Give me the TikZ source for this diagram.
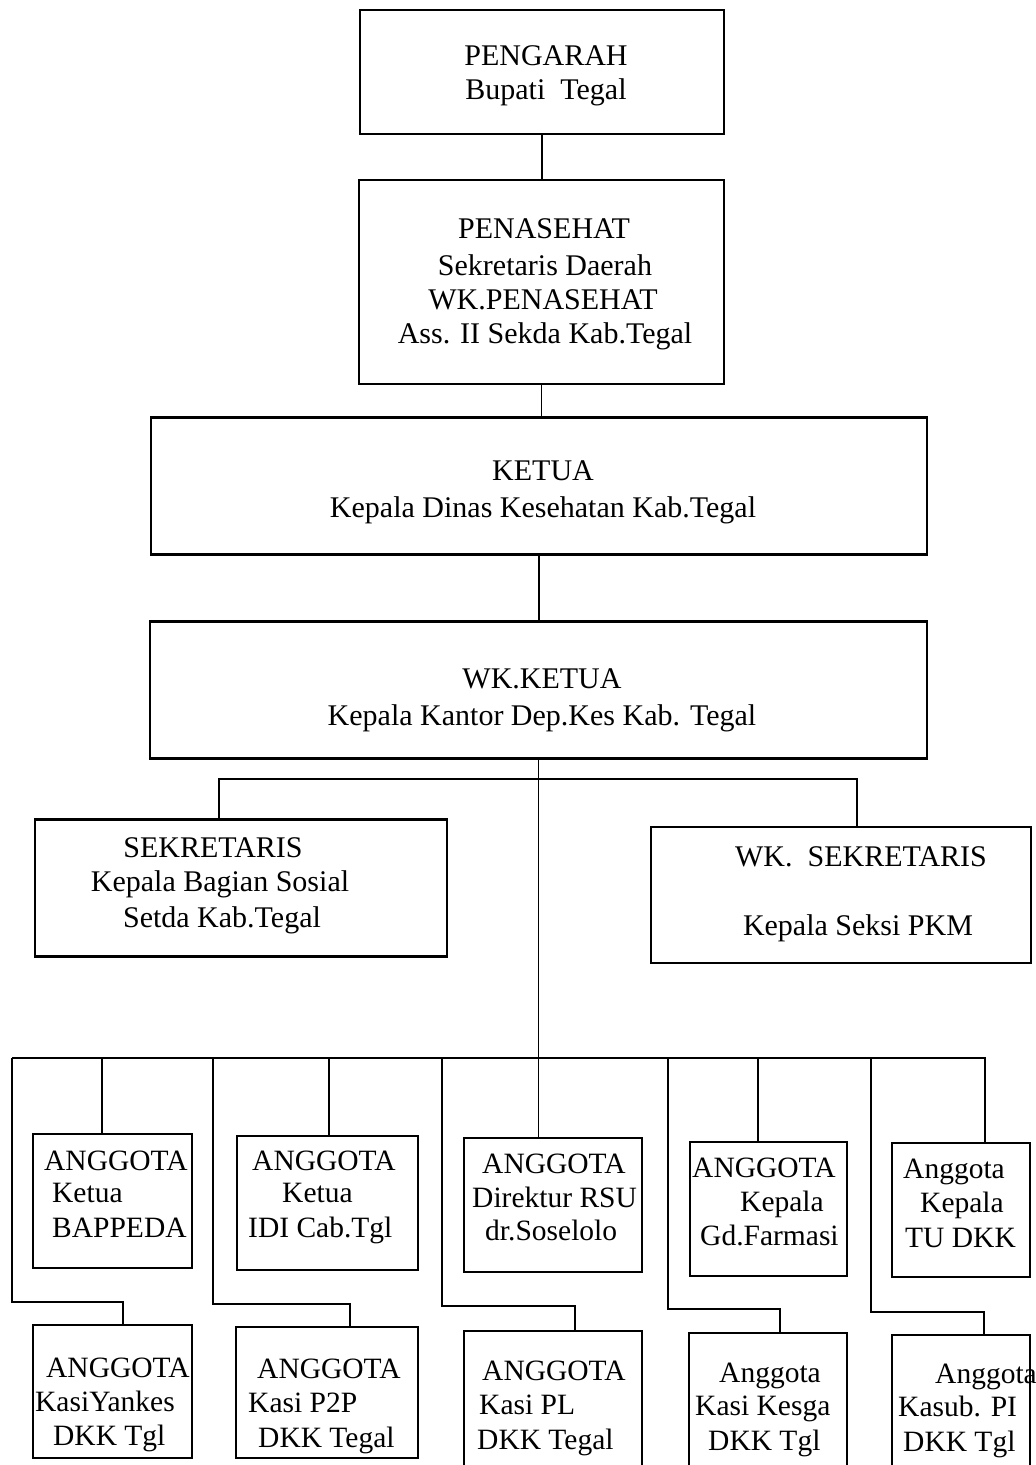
\documentclass[tikz,border=0pt]{standalone}
\usepackage{fontspec}
\setmainfont{Liberation Serif}
\begin{document}
\begin{tikzpicture}[x=1pt,y=-1pt,
  box/.style={draw, line width=2.2pt, rectangle, inner sep=0pt, outer sep=0pt},
  conn/.style={line width=1.8pt},
  lbl/.style={inner sep=0pt, font=\fontsize{30}{36}\selectfont},
  lbls/.style={inner sep=0pt, anchor=base west, font=\fontsize{29.5}{35}\selectfont}]
\useasboundingbox (0,0) rectangle (1036,1465);
% top boxes
\node[box, minimum width=364pt, minimum height=124pt] (pengarah) at (542,72) {};
\node[box, minimum width=365pt, minimum height=204pt] (penasehat) at (541.5,282) {};
\node[box, minimum width=776pt, minimum height=137pt] (ketua) at (539,486) {};
\node[box, minimum width=777pt, minimum height=137pt] (wkketua) at (538.5,690) {};
\node[box, minimum width=412pt, minimum height=137pt] (sekretaris) at (241,888) {};
\node[box, minimum width=380pt, minimum height=136pt] (wksekretaris) at (841,895) {};
% member boxes row 1
\node[box, minimum width=159pt, minimum height=134pt] (b1) at (112.5,1201) {};
\node[box, minimum width=181pt, minimum height=134pt] (b2) at (327.5,1203) {};
\node[box, minimum width=178pt, minimum height=134pt] (b3) at (553,1205) {};
\node[box, minimum width=157pt, minimum height=134pt] (b4) at (768.5,1209) {};
\node[box, minimum width=138pt, minimum height=134pt] (b5) at (961,1210) {};
% member boxes row 2
\node[box, minimum width=159pt, minimum height=133pt] (c1) at (112.5,1391.5) {};
\node[box, minimum width=182pt, minimum height=131pt] (c2) at (327,1392.5) {};
\node[box, minimum width=178pt, minimum height=149pt] (c3) at (553,1405.5) {};
\node[box, minimum width=158pt, minimum height=147pt] (c4) at (768,1406.5) {};
\node[box, minimum width=138pt, minimum height=145pt] (c5) at (961,1407.5) {};
% texts top
\node[lbl, anchor=base] (tp1) at (546,65) {PENGARAH};
\node[lbl, anchor=base] (tp2) at (546,99) {Bupati~ Tegal};
\node[lbl, anchor=base] (ts1) at (544,238) {PENASEHAT};
\node[lbl, anchor=base] (ts2) at (545,275) {Sekretaris Daerah};
\node[lbl, anchor=base] (ts3) at (543,309) {WK.PENASEHAT};
\node[lbl, anchor=base] (ts4) at (545,343) {Ass. II Sekda Kab.Tegal};
\node[lbl, anchor=base] (tk1) at (543,480) {KETUA};
\node[lbl, anchor=base] (tk2) at (543,517) {Kepala Dinas Kesehatan Kab.Tegal};
\node[lbl, anchor=base] (tw1) at (542,688) {WK.KETUA};
\node[lbl, anchor=base] (tw2) at (542,725) {Kepala Kantor Dep.Kes Kab. Tegal};
\node[lbl, anchor=base] (tse1) at (213,857) {SEKRETARIS};
\node[lbl, anchor=base] (tse2) at (220,891) {Kepala Bagian Sosial};
\node[lbl, anchor=base] (tse3) at (222,927) {Setda Kab.Tegal};
\node[lbl, anchor=base] (tws1) at (861,866) {WK.~ SEKRETARIS};
\node[lbl, anchor=base] (tws2) at (858,935) {Kepala Seksi PKM};
% texts row 1
\node[lbls] (tb1a) at (44,1170) {ANGGOTA};
\node[lbls] (tb1b) at (52,1202) {Ketua};
\node[lbls] (tb1c) at (52,1237) {BAPPEDA};
\node[lbls] (tb2a) at (252,1170) {ANGGOTA};
\node[lbls] (tb2b) at (282,1202) {Ketua};
\node[lbls] (tb2c) at (248,1237) {IDI Cab.Tgl};
\node[lbls] (tb3a) at (482,1173) {ANGGOTA};
\node[lbls] (tb3b) at (472,1207) {Direktur RSU};
\node[lbls] (tb3c) at (485,1240) {dr.Soselolo};
\node[lbls] (tb4a) at (692,1177) {ANGGOTA};
\node[lbls] (tb4b) at (740,1211) {Kepala};
\node[lbls] (tb4c) at (700,1245) {Gd.Farmasi};
\node[lbls] (tb5a) at (903,1178) {Anggota};
\node[lbls] (tb5b) at (920,1212) {Kepala};
\node[lbls] (tb5c) at (905,1247) {TU DKK};
% texts row 2
\node[lbls] (tc1a) at (46,1377) {ANGGOTA};
\node[lbls] (tc1b) at (35,1411) {KasiYankes};
\node[lbls] (tc1c) at (53,1445) {DKK Tgl};
\node[lbls] (tc2a) at (257,1378) {ANGGOTA};
\node[lbls] (tc2b) at (248,1412) {Kasi P2P};
\node[lbls] (tc2c) at (258,1447) {DKK Tegal};
\node[lbls] (tc3a) at (482,1380) {ANGGOTA};
\node[lbls] (tc3b) at (479,1414) {Kasi PL};
\node[lbls] (tc3c) at (477,1449) {DKK Tegal};
\node[lbls] (tc4a) at (719,1382) {Anggota};
\node[lbls] (tc4b) at (695,1415) {Kasi Kesga};
\node[lbls] (tc4c) at (708,1450) {DKK Tgl};
\node[lbls] (tc5a) at (935,1383) {Anggota};
\node[lbls] (tc5b) at (898,1416) {Kasub. PI};
\node[lbls] (tc5c) at (903,1451) {DKK Tgl};
% connectors: trunk
\draw[conn] (pengarah.south) -- (pengarah.south |- penasehat.north);
\draw[conn] (penasehat.south) -- (penasehat.south |- ketua.north);
\draw[conn] (ketua.south) -- (ketua.south |- wkketua.north);
\draw[conn] (wkketua.south) -- (wkketua.south |- b3.north);
% secretary branch
\coordinate (sL) at (219,779);
\coordinate (sR) at (857,779);
\draw[conn] (sekretaris.north -| sL) -- (sL) -- (sR) -- (wksekretaris.north -| sR);
% member bus
\coordinate (bL) at (12,1058);
\coordinate (bR) at (985,1058);
\draw[conn] (bL) -- (bR) -- (bR |- b5.north);
\coordinate (d1) at (102,1058);
\coordinate (d2) at (329,1058);
\coordinate (d4) at (758,1058);
\draw[conn] (d1) -- (d1 |- b1.north);
\draw[conn] (d2) -- (d2 |- b2.north);
\draw[conn] (d4) -- (d4 |- b4.north);
% loops to second row
\coordinate (l1a) at (12,1302);  \coordinate (l1b) at (123,1302);
\coordinate (l2t) at (213,1058); \coordinate (l2a) at (213,1304); \coordinate (l2b) at (350,1304);
\coordinate (l3t) at (442,1058); \coordinate (l3a) at (442,1306); \coordinate (l3b) at (575,1306);
\coordinate (l4t) at (668,1058); \coordinate (l4a) at (668,1309); \coordinate (l4b) at (780,1309);
\coordinate (l5t) at (871,1058); \coordinate (l5a) at (871,1312); \coordinate (l5b) at (984,1312);
\draw[conn] (bL) -- (l1a) -- (l1b) -- (l1b |- c1.north);
\draw[conn] (l2t) -- (l2a) -- (l2b) -- (l2b |- c2.north);
\draw[conn] (l3t) -- (l3a) -- (l3b) -- (l3b |- c3.north);
\draw[conn] (l4t) -- (l4a) -- (l4b) -- (l4b |- c4.north);
\draw[conn] (l5t) -- (l5a) -- (l5b) -- (l5b |- c5.north);
\end{tikzpicture}
\end{document}
